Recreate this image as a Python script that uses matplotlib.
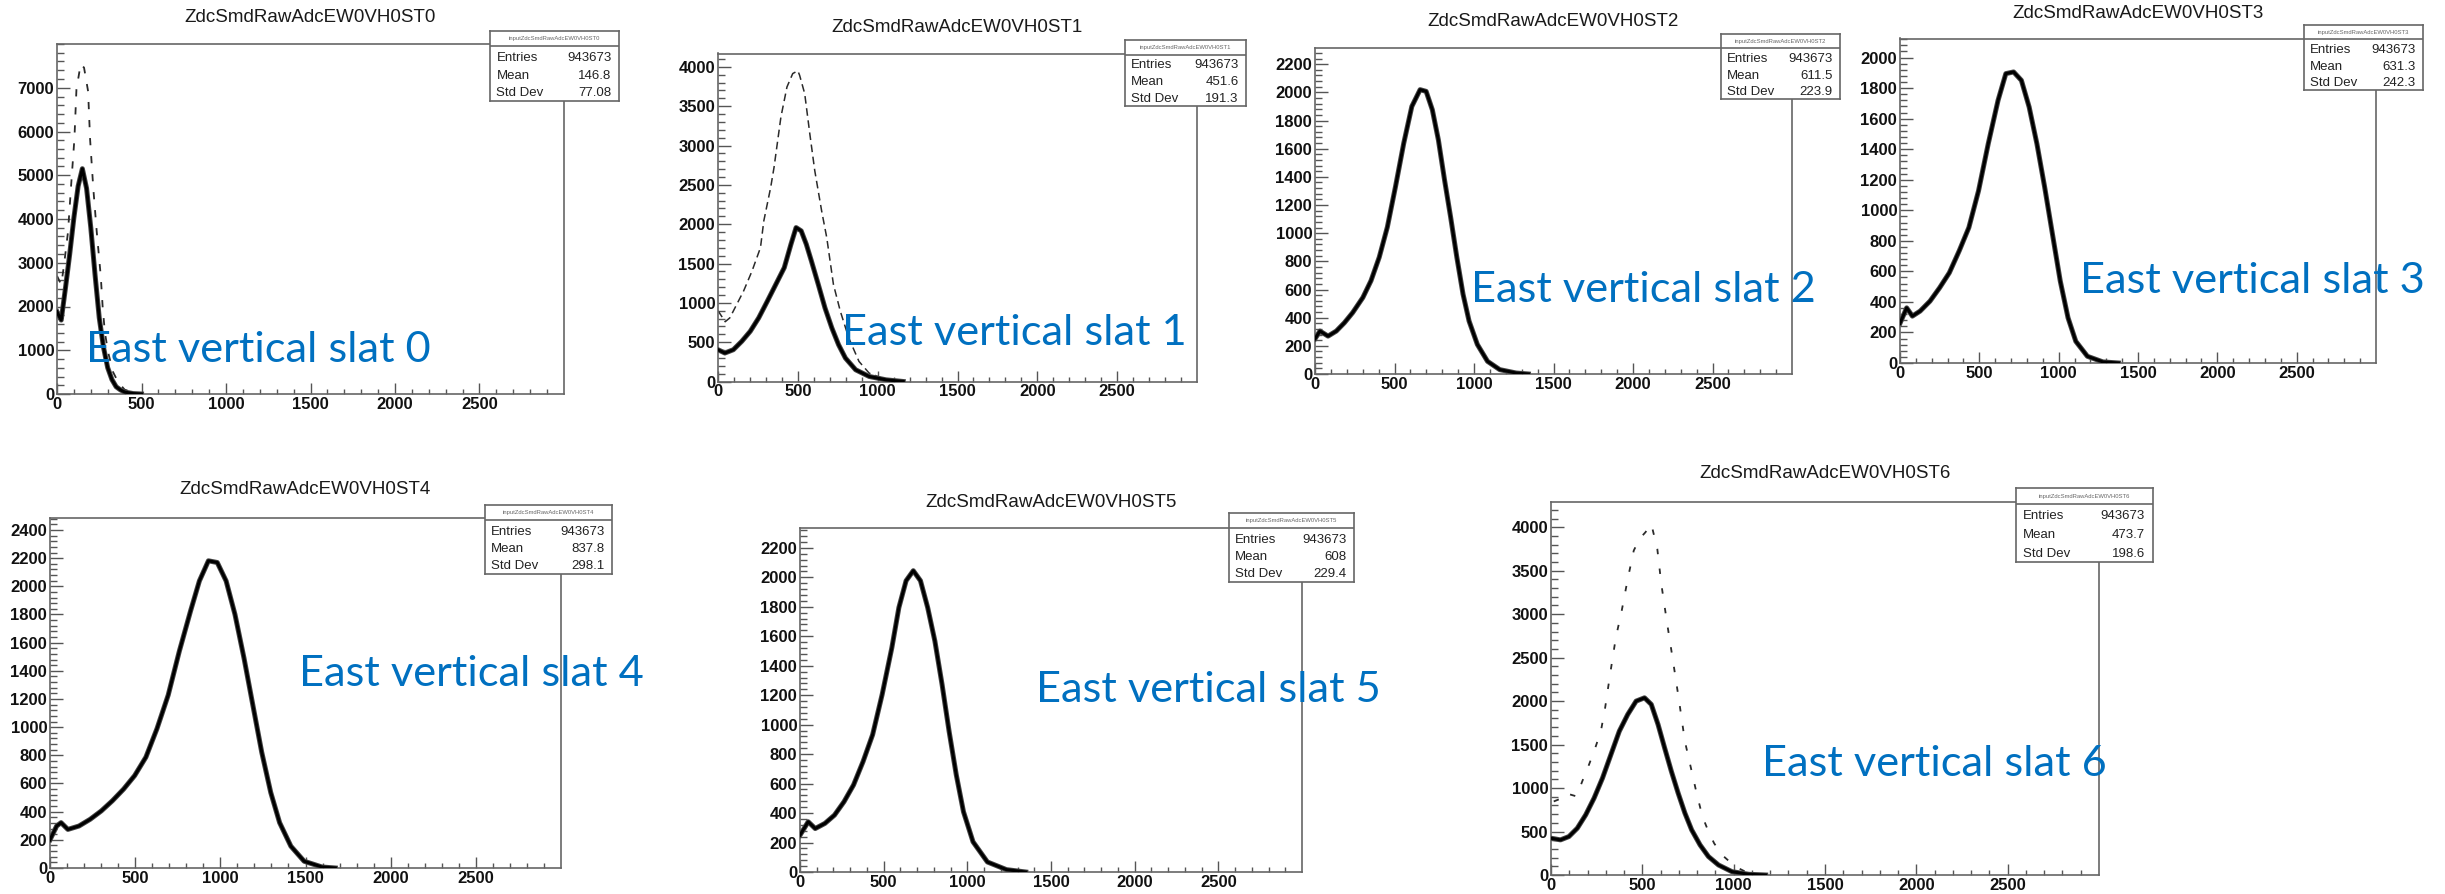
import numpy as np
import matplotlib
matplotlib.use("Agg")
import matplotlib.pyplot as plt
from matplotlib.ticker import FixedLocator, MultipleLocator

# ---------------- data ----------------
ADC_S0 = [0, 10, 25, 50, 75, 100, 125, 150, 175, 200, 225, 250, 275, 300, 325, 350, 375, 400, 450, 500]
CNT_S0 = [1880, 1800, 1690, 2420, 3190, 4030, 4750, 5150, 4700, 3800, 2730, 1740, 1070, 600, 330, 165, 95, 45, 10, 0]
ADC_S0_B = [0, 25, 40, 65, 85, 103, 115, 140, 160, 184, 196, 215, 235, 259, 270, 283, 302, 332, 362, 400, 450, 500]
CNT_S0_B = [2700, 2500, 2900, 3700, 4850, 5830, 6960, 7540, 7460, 6920, 5810, 4690, 3715, 2690, 2000, 1420, 960, 500, 270, 100, 30, 0]

ADC_S1 = [0, 43, 96, 149, 202, 255, 309, 362, 415, 457, 489, 521, 553, 585, 628, 670, 713, 755, 798, 862, 947, 1053, 1160]
CNT_S1 = [404, 362, 404, 511, 638, 809, 1021, 1234, 1447, 1745, 1957, 1915, 1745, 1532, 1234, 936, 681, 468, 298, 149, 64, 21, 0]
ADC_S1_B = [0, 45, 74, 117, 160, 213, 266, 287, 330, 351, 394, 432, 468, 500, 511, 543, 575, 606, 649, 681, 723, 766, 819, 883, 947, 1053, 1150]
CNT_S1_B = [900, 760, 809, 979, 1149, 1404, 1702, 2043, 2468, 2723, 3362, 3745, 3915, 3950, 3894, 3660, 3149, 2681, 2170, 1830, 1234, 894, 553, 255, 106, 21, 0]

ADC_S2 = [0, 31, 82, 134, 185, 237, 301, 352, 404, 455, 506, 558, 609, 661, 699, 738, 776, 815, 853, 892, 931, 969, 1021, 1085, 1162, 1265, 1342]
CNT_S2 = [250, 305, 269, 305, 364, 436, 543, 662, 829, 1043, 1329, 1638, 1900, 2019, 2007, 1876, 1662, 1376, 1114, 829, 567, 376, 210, 90, 31, 7, 0]

ADC_S3 = [0, 42, 78, 127, 189, 250, 311, 373, 434, 495, 556, 618, 667, 716, 765, 814, 863, 912, 961, 1010, 1059, 1108, 1181, 1279, 1377]
CNT_S3 = [260, 361, 307, 340, 405, 493, 591, 734, 887, 1128, 1435, 1720, 1895, 1906, 1851, 1676, 1435, 1150, 843, 537, 296, 142, 44, 7, 0]

ADC_S4 = [0, 39, 65, 105, 170, 236, 301, 366, 432, 497, 563, 628, 694, 759, 825, 877, 930, 982, 1034, 1086, 1139, 1191, 1243, 1296, 1348, 1414, 1492, 1597, 1675]
CNT_S4 = [200, 298, 322, 274, 298, 346, 405, 477, 560, 656, 787, 989, 1228, 1538, 1824, 2038, 2181, 2169, 2038, 1800, 1490, 1156, 822, 536, 322, 155, 48, 7, 0]

ADC_S5 = [0, 49, 91, 149, 206, 263, 320, 377, 434, 491, 549, 591, 634, 677, 720, 763, 806, 849, 891, 934, 977, 1034, 1120, 1234, 1349]
CNT_S5 = [250, 341, 295, 330, 386, 477, 591, 750, 932, 1205, 1523, 1795, 1977, 2045, 1977, 1795, 1568, 1273, 955, 659, 409, 205, 68, 16, 0]

ADC_S6 = [0, 52, 98, 144, 190, 236, 282, 328, 374, 420, 466, 512, 549, 586, 622, 659, 696, 733, 770, 816, 862, 917, 991, 1083, 1175]
CNT_S6 = [423, 404, 442, 538, 692, 885, 1115, 1385, 1654, 1846, 2000, 2038, 1962, 1731, 1462, 1192, 942, 712, 519, 346, 212, 115, 38, 8, 0]
ADC_S6_B = [15, 61, 79, 140, 171, 208, 239, 273, 295, 324, 355, 387, 420, 453, 484, 517, 549, 582, 604, 635, 668, 700, 733, 766, 797, 829, 862, 893, 936, 1009, 1083]
CNT_S6_B = [846, 885, 942, 904, 1077, 1269, 1442, 1654, 1904, 2315, 2731, 3038, 3404, 3731, 3865, 3942, 4038, 3750, 3346, 2904, 2462, 2019, 1538, 1231, 942, 673, 500, 365, 231, 96, 19]

TITLES = ["ZdcSmdRawAdcEW0VH0ST%d" % i for i in range(7)]
ENTRIES = ["943673"] * 7
MEANS = ["146.8", "451.6", "611.5", "631.3", "837.8", "608", "473.7"]
STDDEVS = ["77.08", "191.3", "223.9", "242.3", "298.1", "229.4", "198.6"]
SLAT_LABELS = ["East vertical slat %d" % i for i in range(7)]
Y_STEP = [1000, 500, 200, 200, 200, 200, 500]
Y_LAST = [7000, 4000, 2200, 2000, 2400, 2200, 4000]
Y_MAX = [8000, 4170, 2315, 2125, 2485, 2335, 4290]
X_LABELS = [0, 500, 1000, 1500, 2000, 2500]

SOLID = [(ADC_S0, CNT_S0), (ADC_S1, CNT_S1), (ADC_S2, CNT_S2), (ADC_S3, CNT_S3),
         (ADC_S4, CNT_S4), (ADC_S5, CNT_S5), (ADC_S6, CNT_S6)]
DASHED = {0: (ADC_S0_B, CNT_S0_B), 1: (ADC_S1_B, CNT_S1_B), 6: (ADC_S6_B, CNT_S6_B)}

# ---------------- layout (pixels, y from top) ----------------
W, H, DPI = 2445, 894, 100
FRAMES = [(57, 44, 564, 394), (718, 53.5, 1197, 381.5), (1315, 48, 1792, 374),
          (1900, 38.5, 2376, 363), (50, 518, 561, 868), (800, 528, 1302, 872),
          (1551, 502, 2099, 875)]
STATS = [(490, 31, 619, 101), (1125, 40, 1246, 106), (1721, 34, 1840, 99),
         (2304, 25, 2423, 90), (485, 505, 612, 574), (1229, 513, 1354, 582),
         (2016, 488, 2153, 562)]
TITLE_Y = [18, 28, 22, 13, 490, 502, 473]
LABEL_POS = [(86, 362), (842, 345), (1471, 302), (2080, 293), (299, 686), (1036, 702), (1762, 776)]
DASH_STYLE = {0: (0, (4, 6)), 1: (0, (5, 3)), 6: (0, (3, 8))}
DASH_LW = {0: 1.3, 1: 1.1, 6: 1.3}

FRAME_C = "#666666"
TICK_C = "#555555"

fig = plt.figure(figsize=(W / DPI, H / DPI), dpi=DPI)
fig.patch.set_facecolor("white")


def rect(L, T, R, B):
    return [L / W, 1 - B / H, (R - L) / W, (B - T) / H]


for i in range(7):
    L, T, R, B = FRAMES[i]
    ax = fig.add_axes(rect(L, T, R, B))
    ax.set_xlim(0, 3000)
    ax.set_ylim(0, Y_MAX[i])
    xs, ys = SOLID[i]
    if i in DASHED:
        dx, dy = DASHED[i]
        ax.plot(dx, dy, color="#2a2a2a", lw=DASH_LW[i], linestyle=DASH_STYLE[i], zorder=2)
    ax.plot(xs, ys, color="#444444", lw=3.6, solid_joinstyle="round", zorder=3)
    ax.plot(xs, ys, color="black", lw=2.2, solid_joinstyle="round", zorder=4)

    ax.xaxis.set_major_locator(FixedLocator(X_LABELS))
    ax.xaxis.set_minor_locator(FixedLocator([v for v in range(100, 3000, 100) if v % 500]))
    ax.yaxis.set_major_locator(FixedLocator(list(range(0, Y_LAST[i] + 1, Y_STEP[i]))))
    ax.yaxis.set_minor_locator(MultipleLocator(Y_STEP[i] / 5))
    ax.tick_params(which="both", direction="in", top=False, right=False, color=TICK_C, width=1.0)
    ax.tick_params(axis="x", which="major", length=7.9, pad=2)
    ax.tick_params(axis="x", which="minor", length=3.8)
    ax.tick_params(axis="y", which="major", length=9.4, pad=2)
    ax.tick_params(axis="y", which="minor", length=4.7)
    for t in ax.get_xticklabels() + ax.get_yticklabels():
        t.set_fontfamily("Liberation Sans")
        t.set_fontweight("bold")
        t.set_fontsize(12)
        t.set_color("#111111")
    for sp in ax.spines.values():
        sp.set_color(FRAME_C)
        sp.set_linewidth(1.2)

    cx = (L + R) / 2
    fig.text(cx / W, 1 - TITLE_Y[i] / H, TITLES[i], ha="center", va="center",
             fontsize=13.5, family="Liberation Sans", color="#1a1a1a")

    sL, sT, sR, sB = STATS[i]
    sx = fig.add_axes(rect(sL, sT, sR, sB))
    sx.set_xlim(0, 1)
    sx.set_ylim(0, 1)
    sx.set_xticks([])
    sx.set_yticks([])
    sx.set_facecolor("white")
    sx.set_zorder(5)
    for sp in sx.spines.values():
        sp.set_color(FRAME_C)
        sp.set_linewidth(1.2)
    sx.axhline(0.78, color=FRAME_C, lw=1.2)
    sx.text(0.5, 0.89, "input" + TITLES[i], ha="center", va="center", fontsize=4.2,
            color="#666666", family="Liberation Sans")
    for yy, name, val in [(0.615, "Entries", ENTRIES[i]), (0.36, "Mean", MEANS[i]),
                          (0.11, "Std Dev", STDDEVS[i])]:
        sx.text(0.05, yy, name, ha="left", va="center", fontsize=9.5,
                family="Liberation Sans", color="#222222")
        sx.text(0.94, yy, val, ha="right", va="center", fontsize=9.5,
                family="Liberation Sans", color="#222222")

# blue annotations (fit font size to the measured label width)
probe = fig.text(0, 0, SLAT_LABELS[0], fontsize=30, family="Lato")
fig.canvas.draw()
wpx = probe.get_window_extent(renderer=fig.canvas.get_renderer()).width
probe.remove()
fs = 30 * 345.0 / wpx

for i in range(7):
    lx, ly = LABEL_POS[i]
    fig.text(lx / W, 1 - ly / H, SLAT_LABELS[i], ha="left", va="baseline",
             fontsize=fs, family="Lato", color="#0070C0", zorder=20)

fig.savefig("out.png", dpi=DPI)
